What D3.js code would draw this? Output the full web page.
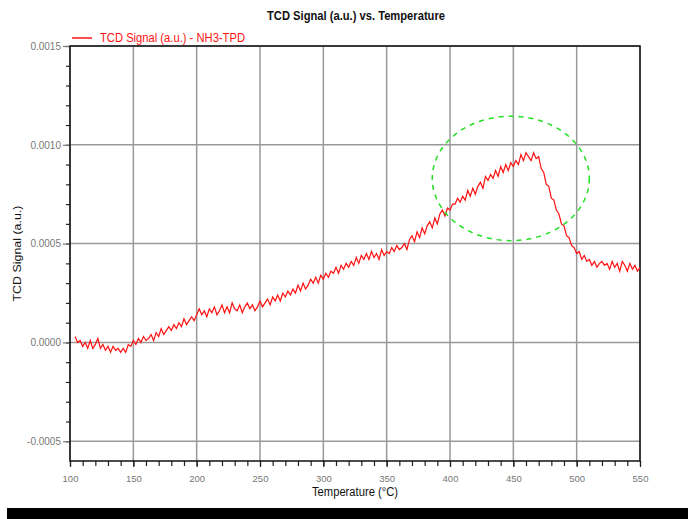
<!DOCTYPE html>
<html>
<head>
<meta charset="utf-8">
<script src="https://cdn.jsdelivr.net/npm/d3@7"></script>
<style>
  body { margin: 0; background: #fff; }
  text { font-family: "Liberation Sans", Arial, sans-serif; }
</style>
</head>
<body>
<script>
// temperature sampled every 2 °C from 104 to 550
const temps = d3.range(104, 551, 2)
// TCD signal, in units of 1e-5 a.u.
const signalE5 = [
  3, 0, 1, -2, 0, -3, 1, -3, -1, 2,
  -3, -1, -4, -2, -5, -2, -4, -3, -5, -3,
  -5, -1, -2, 1, -1, 2, 0, 3, 1, 2,
  4, 1, 5, 3, 7, 4, 6, 8, 6, 9,
  7, 10, 8, 12, 9, 11, 13, 11, 14, 17,
  14, 16, 13, 17, 15, 18, 14, 16, 19, 15,
  18, 15, 20, 17, 16, 19, 15, 18, 20, 17,
  19, 16, 18, 21, 18, 20, 22, 19, 23, 21,
  24, 21, 25, 23, 26, 24, 27, 25, 29, 26,
  30, 27, 29, 32, 30, 33, 30, 34, 32, 35,
  33, 36, 35, 38, 35, 39, 37, 40, 38, 41,
  39, 43, 40, 44, 42, 45, 42, 46, 43, 45,
  42, 47, 44, 46, 45, 48, 46, 49, 47, 48,
  50, 47, 52, 54, 51, 56, 53, 58, 55, 59,
  61, 58, 63, 60, 65, 67, 64, 68, 67, 70,
  70, 73, 71, 74, 72, 77, 74, 78, 75, 79,
  81, 78, 84, 82, 85, 83, 87, 84, 89, 86,
  90, 87, 91, 89, 92, 90, 95, 92, 96, 94,
  92, 96, 93, 94, 88, 86, 80, 79, 73, 72,
  67, 65, 60, 59, 54, 53, 49, 48, 45, 46,
  42, 44, 41, 42, 39, 41, 38, 40, 41, 39,
  40, 37, 41, 38, 40, 36, 41, 39, 36, 40,
  37, 39, 36, 38
]
const xTicks = [100, 150, 200, 250, 300, 350, 400, 450, 500, 550]
const yTicks = [-0.0005, 0, 0.0005, 0.0010, 0.0015]
// highlighted peak region (centre and radii in data units)
const peakMark = { t: 448, v: 0.00083, rt: 62, rv: 0.000315 }

const W = 688, H = 519
const mLeft = 70, mRight = 640, mTop = 46, mBottom = 461

const svg = d3.select('body').append('svg').attr('width', W).attr('height', H)
svg.append('rect').attr('width', W).attr('height', H).attr('fill', '#fff')

const x = d3.scaleLinear().domain([100, 550]).range([mLeft, mRight])
const y = d3.scaleLinear().domain([-0.0006, 0.0015]).range([mBottom, mTop])

// grid
svg.append('g').selectAll('line').data(xTicks).join('line')
  .attr('x1', d => x(d)).attr('x2', d => x(d))
  .attr('y1', mTop).attr('y2', mBottom)
  .attr('stroke', '#999').attr('stroke-width', 1.5)
svg.append('g').selectAll('line').data(yTicks).join('line')
  .attr('x1', mLeft).attr('x2', mRight)
  .attr('y1', d => y(d)).attr('y2', d => y(d))
  .attr('stroke', '#999').attr('stroke-width', 1.5)

// minor ticks
const xAxis = svg.append('g').attr('transform', `translate(0,${mBottom})`)
  .call(d3.axisBottom(x).tickValues(d3.range(100, 551, 10)).tickSize(5).tickFormat(''))
const yAxis = svg.append('g').attr('transform', `translate(${mLeft},0)`)
  .call(d3.axisLeft(y).tickValues(d3.range(-5, 16).map(d => d / 10000)).tickSize(4).tickFormat(''))
xAxis.select('.domain').remove()
yAxis.select('.domain').remove()
svg.selectAll('.tick line').attr('stroke', '#222').attr('stroke-width', 1.2)

// major ticks with labels
svg.append('g').attr('transform', `translate(0,${mBottom})`)
  .call(d3.axisBottom(x).tickValues(xTicks).tickSize(6).tickPadding(8))
  .call(g => g.select('.domain').remove())
  .call(g => g.selectAll('line').attr('stroke', '#222').attr('stroke-width', 1.2))
  .call(g => g.selectAll('text').attr('fill', '#777').attr('font-size', 9.5)
    .attr('font-family', '"Liberation Sans", Arial, sans-serif'))
svg.append('g').attr('transform', `translate(${mLeft},0)`)
  .call(d3.axisLeft(y).tickValues(yTicks).tickSize(7).tickPadding(2).tickFormat(d => d.toFixed(4)))
  .call(g => g.select('.domain').remove())
  .call(g => g.selectAll('line').attr('stroke', '#777').attr('stroke-width', 1.2))
  .call(g => g.selectAll('text').attr('fill', '#777').attr('font-size', 10)
    .attr('font-family', '"Liberation Sans", Arial, sans-serif'))

// frame
svg.append('rect').attr('x', mLeft).attr('y', mTop)
  .attr('width', mRight - mLeft).attr('height', mBottom - mTop)
  .attr('fill', 'none').attr('stroke', '#111').attr('stroke-width', 1.5)

// signal
const line = d3.line().x(d => x(d[0])).y(d => y(d[1] * 1e-5))
svg.append('path').datum(temps.map((t, i) => [t, signalE5[i]]))
  .attr('d', line).attr('fill', 'none').attr('stroke', '#ff1010').attr('stroke-width', 1.2)

// dashed ellipse around the peak
svg.append('ellipse')
  .attr('cx', x(peakMark.t)).attr('cy', y(peakMark.v))
  .attr('rx', x(peakMark.t + peakMark.rt) - x(peakMark.t))
  .attr('ry', y(peakMark.v) - y(peakMark.v + peakMark.rv))
  .attr('fill', 'none').attr('stroke', '#22e022').attr('stroke-width', 1.5)
  .attr('stroke-dasharray', '5,5')

// titles
svg.append('text').attr('x', 356).attr('y', 20).attr('text-anchor', 'middle')
  .attr('font-size', 12).attr('font-weight', 'bold').attr('fill', '#111')
  .attr('textLength', 178).attr('lengthAdjust', 'spacingAndGlyphs')
  .text('TCD Signal (a.u.) vs. Temperature')
svg.append('text').attr('x', 355).attr('y', 496).attr('text-anchor', 'middle')
  .attr('font-size', 12).attr('fill', '#111')
  .attr('textLength', 86).attr('lengthAdjust', 'spacingAndGlyphs')
  .text('Temperature (°C)')
svg.append('text').attr('transform', `translate(21,${(mTop + mBottom) / 2}) rotate(-90)`)
  .attr('text-anchor', 'middle').attr('font-size', 11.5).attr('fill', '#111')
  .attr('textLength', 96).attr('lengthAdjust', 'spacingAndGlyphs')
  .text('TCD Signal (a.u.)')

// legend
svg.append('line').attr('x1', 72).attr('x2', 92).attr('y1', 38).attr('y2', 38)
  .attr('stroke', '#ff1010').attr('stroke-width', 1.5)
svg.append('text').attr('x', 100).attr('y', 42).attr('font-size', 12).attr('fill', '#ff1010')
  .attr('textLength', 145).attr('lengthAdjust', 'spacingAndGlyphs')
  .text('TCD Signal (a.u.) - NH3-TPD')

// black strip at the bottom
svg.append('rect').attr('x', 7).attr('y', 508).attr('width', W - 7).attr('height', H - 508).attr('fill', '#000')
</script>
</body>
</html>
